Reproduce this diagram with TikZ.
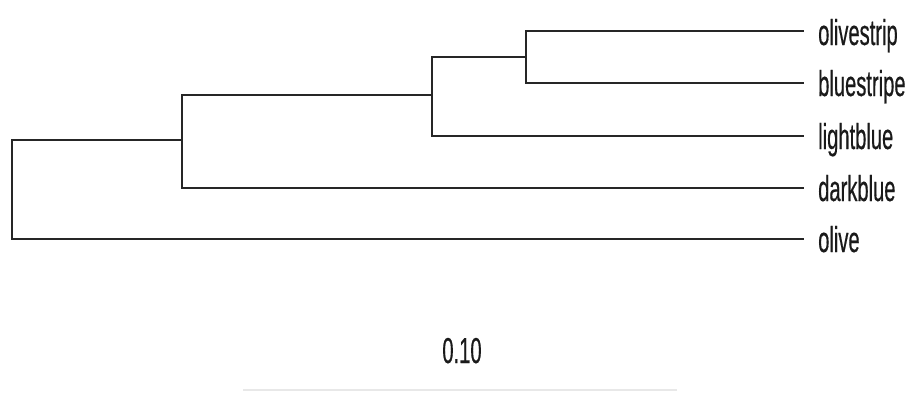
\documentclass[tikz,border=0pt]{standalone}
\usepackage{fontspec}
\newfontfamily\narrowsans[FakeStretch=0.56,FakeBold=0.4]{Liberation Sans}
\definecolor{treeline}{HTML}{262626}
\definecolor{textcol}{HTML}{1A1A1A}
\begin{document}
\begin{tikzpicture}[x=1pt,y=-1pt,
  branch/.style={draw=treeline,line width=1.5pt,line cap=rect},
  leaflabel/.style={anchor=base west,inner sep=0pt,text=textcol,font=\narrowsans\fontsize{36}{36}\selectfont},
  scalelabel/.style={anchor=base,inner sep=0pt,text=textcol,font=\narrowsans\fontsize{36}{36}\selectfont}]
\useasboundingbox[fill=white] (0,0) rectangle (912,392);
% leaf ends
\coordinate (l1) at (803,31);
\coordinate (l2) at (803,83);
\coordinate (l3) at (803,136);
\coordinate (l4) at (803,188);
\coordinate (l5) at (803,239);
% internal nodes
\coordinate (n1) at (526,57);
\coordinate (n2) at (432,95);
\coordinate (n3) at (182,140);
\coordinate (root) at (12,190);
% labels
\node[leaflabel] (olivestrip) at (818,45) {olivestrip};
\node[leaflabel] (bluestripe) at (818,96) {bluestripe};
\node[leaflabel] (lightblue) at (818,149) {lightblue};
\node[leaflabel] (darkblue) at (818,201) {darkblue};
\node[leaflabel] (olive) at (818,252) {olive};
% tree
\draw[branch] (l1) -| (n1) |- (l2);
\draw[branch] (n1) -| (n2) |- (l3);
\draw[branch] (n2) -| (n3) |- (l4);
\draw[branch] (n3) -| (root) |- (l5);
% scale bar
\node[scalelabel] (scale) at (462,363) {0.10};
\coordinate (s1) at (243,390);
\coordinate (s2) at (677,390);
\draw[draw=black!9,line width=1.5pt] (s1) -- (s2);
\end{tikzpicture}
\end{document}
